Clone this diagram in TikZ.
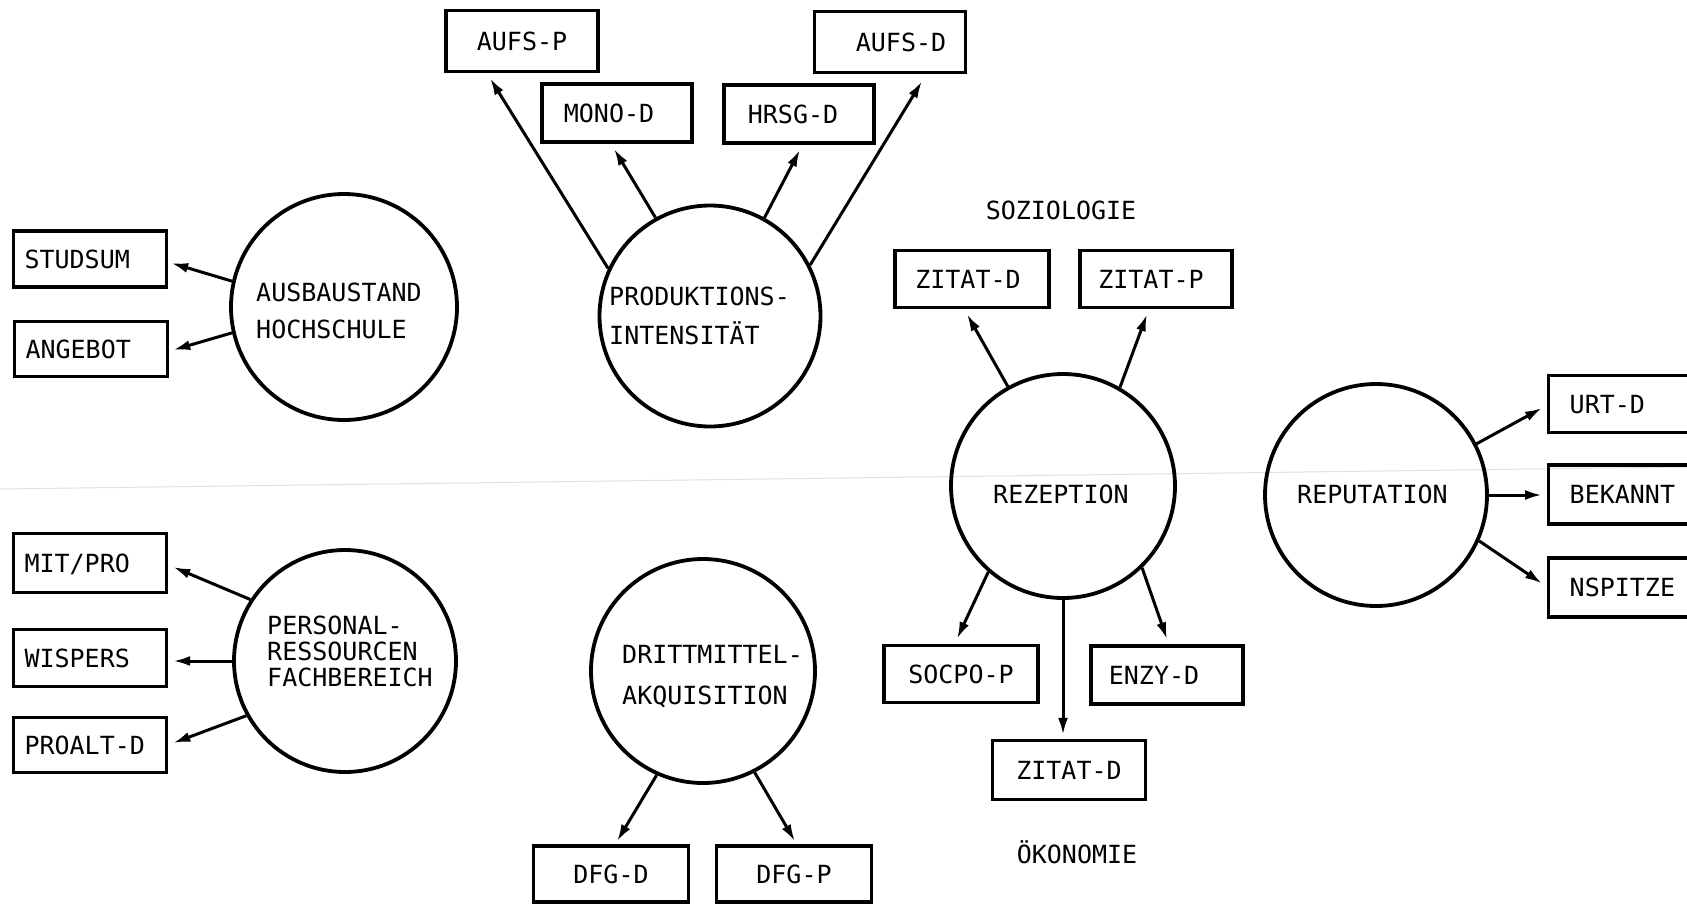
\documentclass[tikz,border=0pt]{standalone}
\usepackage{fontspec}
\setmonofont{DejaVu Sans Mono}
\usetikzlibrary{arrows.meta,calc}
\tikzset{
  lbl/.style={font=\ttfamily\fontsize{25}{37}\selectfont},
  bx/.style={draw, rectangle, line width=3.4pt, inner sep=0pt, minimum width=152pt, minimum height=58pt,
     text height=18pt, text depth=0pt, font=\ttfamily\fontsize{25}{30}\selectfont},
  lbx/.style={bx, text width=131pt, align=left, inner xsep=11pt},
  rbx/.style={bx, text width=150pt, align=left, inner xsep=21pt, anchor=west},
  circ/.style={draw, circle, line width=3.8pt, inner sep=0pt},
  ctext/.style={font=\ttfamily\fontsize{25}{37}\selectfont, align=left, inner sep=0pt, anchor=north west},
  arr/.style={line width=3pt, -{Latex[length=17pt,width=10pt]}}
}
\begin{document}
\begin{tikzpicture}[x=1pt,y=-1pt]
\useasboundingbox (0,0) rectangle (1687,903);
\clip (0,0) rectangle (1687,903);
\fill[white] (0,0) rectangle (1687,903);
% faint scan fold
\draw[black!12, line width=1pt] (0,489) -- (1687,467);

% circles
\node[circ, minimum size=226pt] (aus) at (344,307) {};
\node[circ, minimum size=221pt] (prod) at (710,316) {};
\node[circ, minimum size=222pt] (pers) at (345,661) {};
\node[circ, minimum size=224pt] (dritt) at (703,671) {};
\node[circ, minimum size=224pt] (rez) at (1063,486) {};
\node[circ, minimum size=222pt] (rep) at (1376,495) {};

% circle texts
\node[ctext] (taus) at (256,283) {AUSBAUSTAND\\HOCHSCHULE};
\node[ctext, font=\ttfamily\fontsize{25}{39}\selectfont] (tprod) at (609,287) {PRODUKTIONS-\\INTENSITÄT};
\node[ctext, font=\ttfamily\fontsize{25}{26}\selectfont] (tpers) at (267,616) {PERSONAL-\\RESSOURCEN\\FACHBEREICH};
\node[ctext, font=\ttfamily\fontsize{25}{41}\selectfont] (tdritt) at (622,645) {DRITTMITTEL-\\AKQUISITION};
\node[ctext] (trez) at (993,485) {REZEPTION};
\node[ctext] (trep) at (1297,485) {REPUTATION};

% boxes
\node[bx, minimum height=61pt] (aufsp) at (522,41) {AUFS-P};
\node[bx, minimum height=61pt, minimum width=151pt] (aufsd) at (890,42) {\hspace*{22pt}AUFS-D};
\node[bx, minimum width=150pt] (mono) at (617,113) {MONO-D\hspace*{16pt}};
\node[bx, minimum width=150pt] (hrsg) at (799,114) {HRSG-D\hspace*{12pt}};
\node[lbx, minimum height=56pt] (studsum) at (90,259) {STUDSUM};
\node[lbx, minimum height=55pt] (angebot) at (91,349) {ANGEBOT};
\node[bx, minimum width=154pt, minimum height=57pt] (zitd) at (972,279) {ZITAT-D\hspace*{8pt}};
\node[bx, minimum height=57pt] (zitp) at (1156,279) {ZITAT-P\hspace*{10pt}};
\node[lbx, minimum height=59pt] (mitpro) at (90,563) {MIT/PRO};
\node[lbx, minimum height=57pt] (wispers) at (90,658) {WISPERS};
\node[lbx, minimum height=55pt] (proalt) at (90,745) {PROALT-D};
\node[rbx, minimum height=57pt] (urt) at (1547,404) {URT-D};
\node[rbx, minimum height=59pt] (bek) at (1547,494.5) {BEKANNT};
\node[rbx, minimum height=59pt] (nsp) at (1547,587.5) {NSPITZE};
\node[bx, minimum width=154pt, minimum height=57pt] (socpo) at (961,674) {SOCPO-P};
\node[bx, minimum height=58pt] (enzy) at (1167,675) {ENZY-D\hspace*{26pt}};
\node[bx, minimum width=153pt, minimum height=59pt] (zitd2) at (1069,770) {ZITAT-D};
\node[bx, minimum width=155pt, minimum height=56pt] (dfgd) at (611,874) {DFG-D};
\node[bx, minimum width=155pt, minimum height=56pt] (dfgp) at (794,874) {DFG-P};

% headings
\node[lbl, anchor=base] (soz) at (1061,219) {SOZIOLOGIE};
\node[lbl, anchor=base] (oek) at (1077,863) {ÖKONOMIE};

% connectors
\draw[arr] (prod.155.8) -- ([xshift=-32pt,yshift=-5pt]aufsp.south);
\draw[arr] (prod.119.5) -- ([xshift=-3pt,yshift=-5pt]mono.south);
\draw[arr] (prod.61) -- ([xshift=1pt,yshift=-5pt]hrsg.south);
\draw[arr] (prod.27.7) -- ([xshift=32pt,yshift=-7pt]aufsd.south);

\draw[arr] (aus.167.8) -- ([xshift=3pt,yshift=-4pt]studsum.east);
\draw[arr] (aus.193.2) -- ([xshift=4pt,yshift=-1pt]angebot.east);

\draw[arr] (pers.147.3) -- ([xshift=5pt,yshift=-4pt]mitpro.east);
\draw[arr] (pers.180) -- ([xshift=5pt,yshift=-3pt]wispers.east);
\draw[arr] (pers.209.7) -- ([xshift=5pt,yshift=2pt]proalt.east);

\draw[arr] (dritt.246.1) -- ([xshift=6pt,yshift=3pt]dfgd.north);
\draw[arr] (dritt.297) -- ([xshift=1pt,yshift=3pt]dfgp.north);

\draw[arr] (rez.119.7) -- ([xshift=-5pt,yshift=-5pt]zitd.south);
\draw[arr] (rez.60.3) -- ([xshift=-9pt,yshift=-5pt]zitp.south);
\draw[arr] (rez.229) -- ([xshift=-4pt,yshift=5pt]socpo.north);
\draw[arr] (rez.south) -- ([yshift=4pt]rez.south |- zitd2.north);
\draw[arr] (rez.314.3) -- ([yshift=5pt]enzy.north);

\draw[arr] (rep.27.5) -- ([xshift=-5pt,yshift=-4pt]urt.west);
\draw[arr] (rep.east) -- ([xshift=-5pt]rep.east -| bek.west);
\draw[arr] (rep.336.6) -- ([xshift=-5pt,yshift=4pt]nsp.west);
\end{tikzpicture}
\end{document}
